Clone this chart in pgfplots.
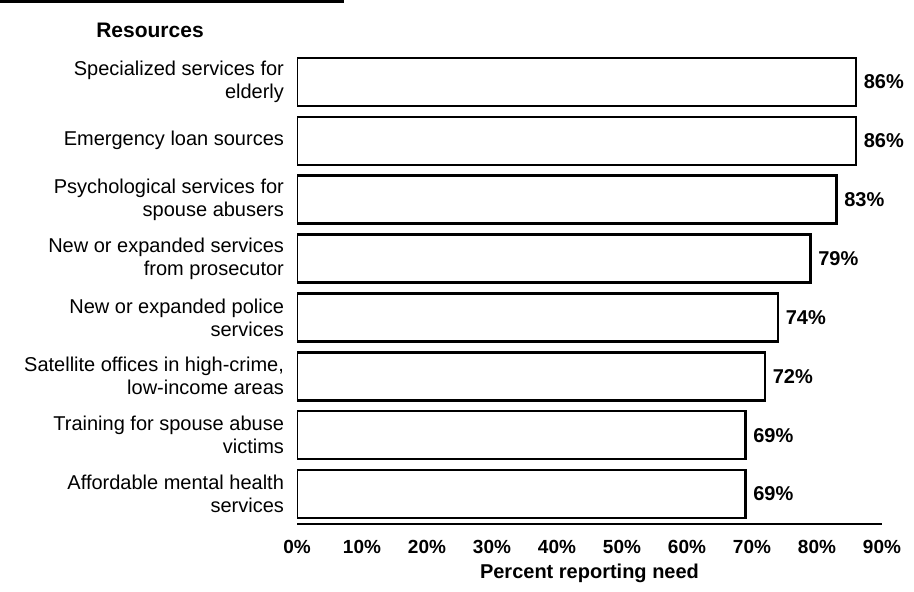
\documentclass[border=0pt]{standalone}
\usepackage{fontspec}
\setmainfont{Liberation Sans}
\usepackage{pgfplots}
\pgfplotsset{compat=1.18}
\begin{document}
\begin{tikzpicture}
\path[use as bounding box] (0,0) rectangle (457pt,296pt);
\draw[line width=1.6pt] (0,295.5pt) -- (172pt,295.5pt);
\node[font=\fontsize{10.5}{12}\selectfont\bfseries] at (75pt,281pt) {Resources};
\begin{axis}[
  at={(148.5pt,34.25pt)}, anchor=south west,
  scale only axis, width=292.5pt, height=235.5pt,
  xbar, bar width=24pt,
  xmin=0, xmax=90, ymin=-0.5, ymax=7.5, y dir=reverse,
  axis x line*=bottom, axis y line*=left,
  x axis line style={line width=1pt},
  y axis line style={draw=none},
  xtick={0,10,...,90},
  xticklabel={\pgfmathprintnumber{\tick}\%},
  /pgf/number format/assume math mode=true,
  xticklabel style={font=\fontsize{9.5}{11}\selectfont\bfseries, yshift=-5pt},
  ytick={0,...,7},
  yticklabels={{Specialized services for\\elderly},
               {Emergency loan sources},
               {Psychological services for\\spouse abusers},
               {New or expanded services\\from prosecutor},
               {New or expanded police\\services},
               {Satellite offices in high-crime,\\low-income areas},
               {Training for spouse abuse\\victims},
               {Affordable mental health\\services}},
  yticklabel style={align=right, font=\fontsize{10}{11.5}\selectfont, xshift=-3pt},
  major tick length=0pt,
  xlabel={Percent reporting need},
  xlabel style={font=\fontsize{10}{12}\selectfont\bfseries, at={(axis description cs:0.5,0)}, anchor=center, yshift=-25pt},
  nodes near coords={\pgfmathprintnumber{\pgfplotspointmeta}\%},
  nodes near coords style={anchor=west, font=\fontsize{10}{12}\selectfont\bfseries},
  point meta=x,
]
\addplot[draw=black, fill=white, line width=1.2pt] coordinates {
  (86,0) (86,1) (83,2) (79,3) (74,4) (72,5) (69,6) (69,7)
};
\end{axis}
\end{tikzpicture}
\end{document}
